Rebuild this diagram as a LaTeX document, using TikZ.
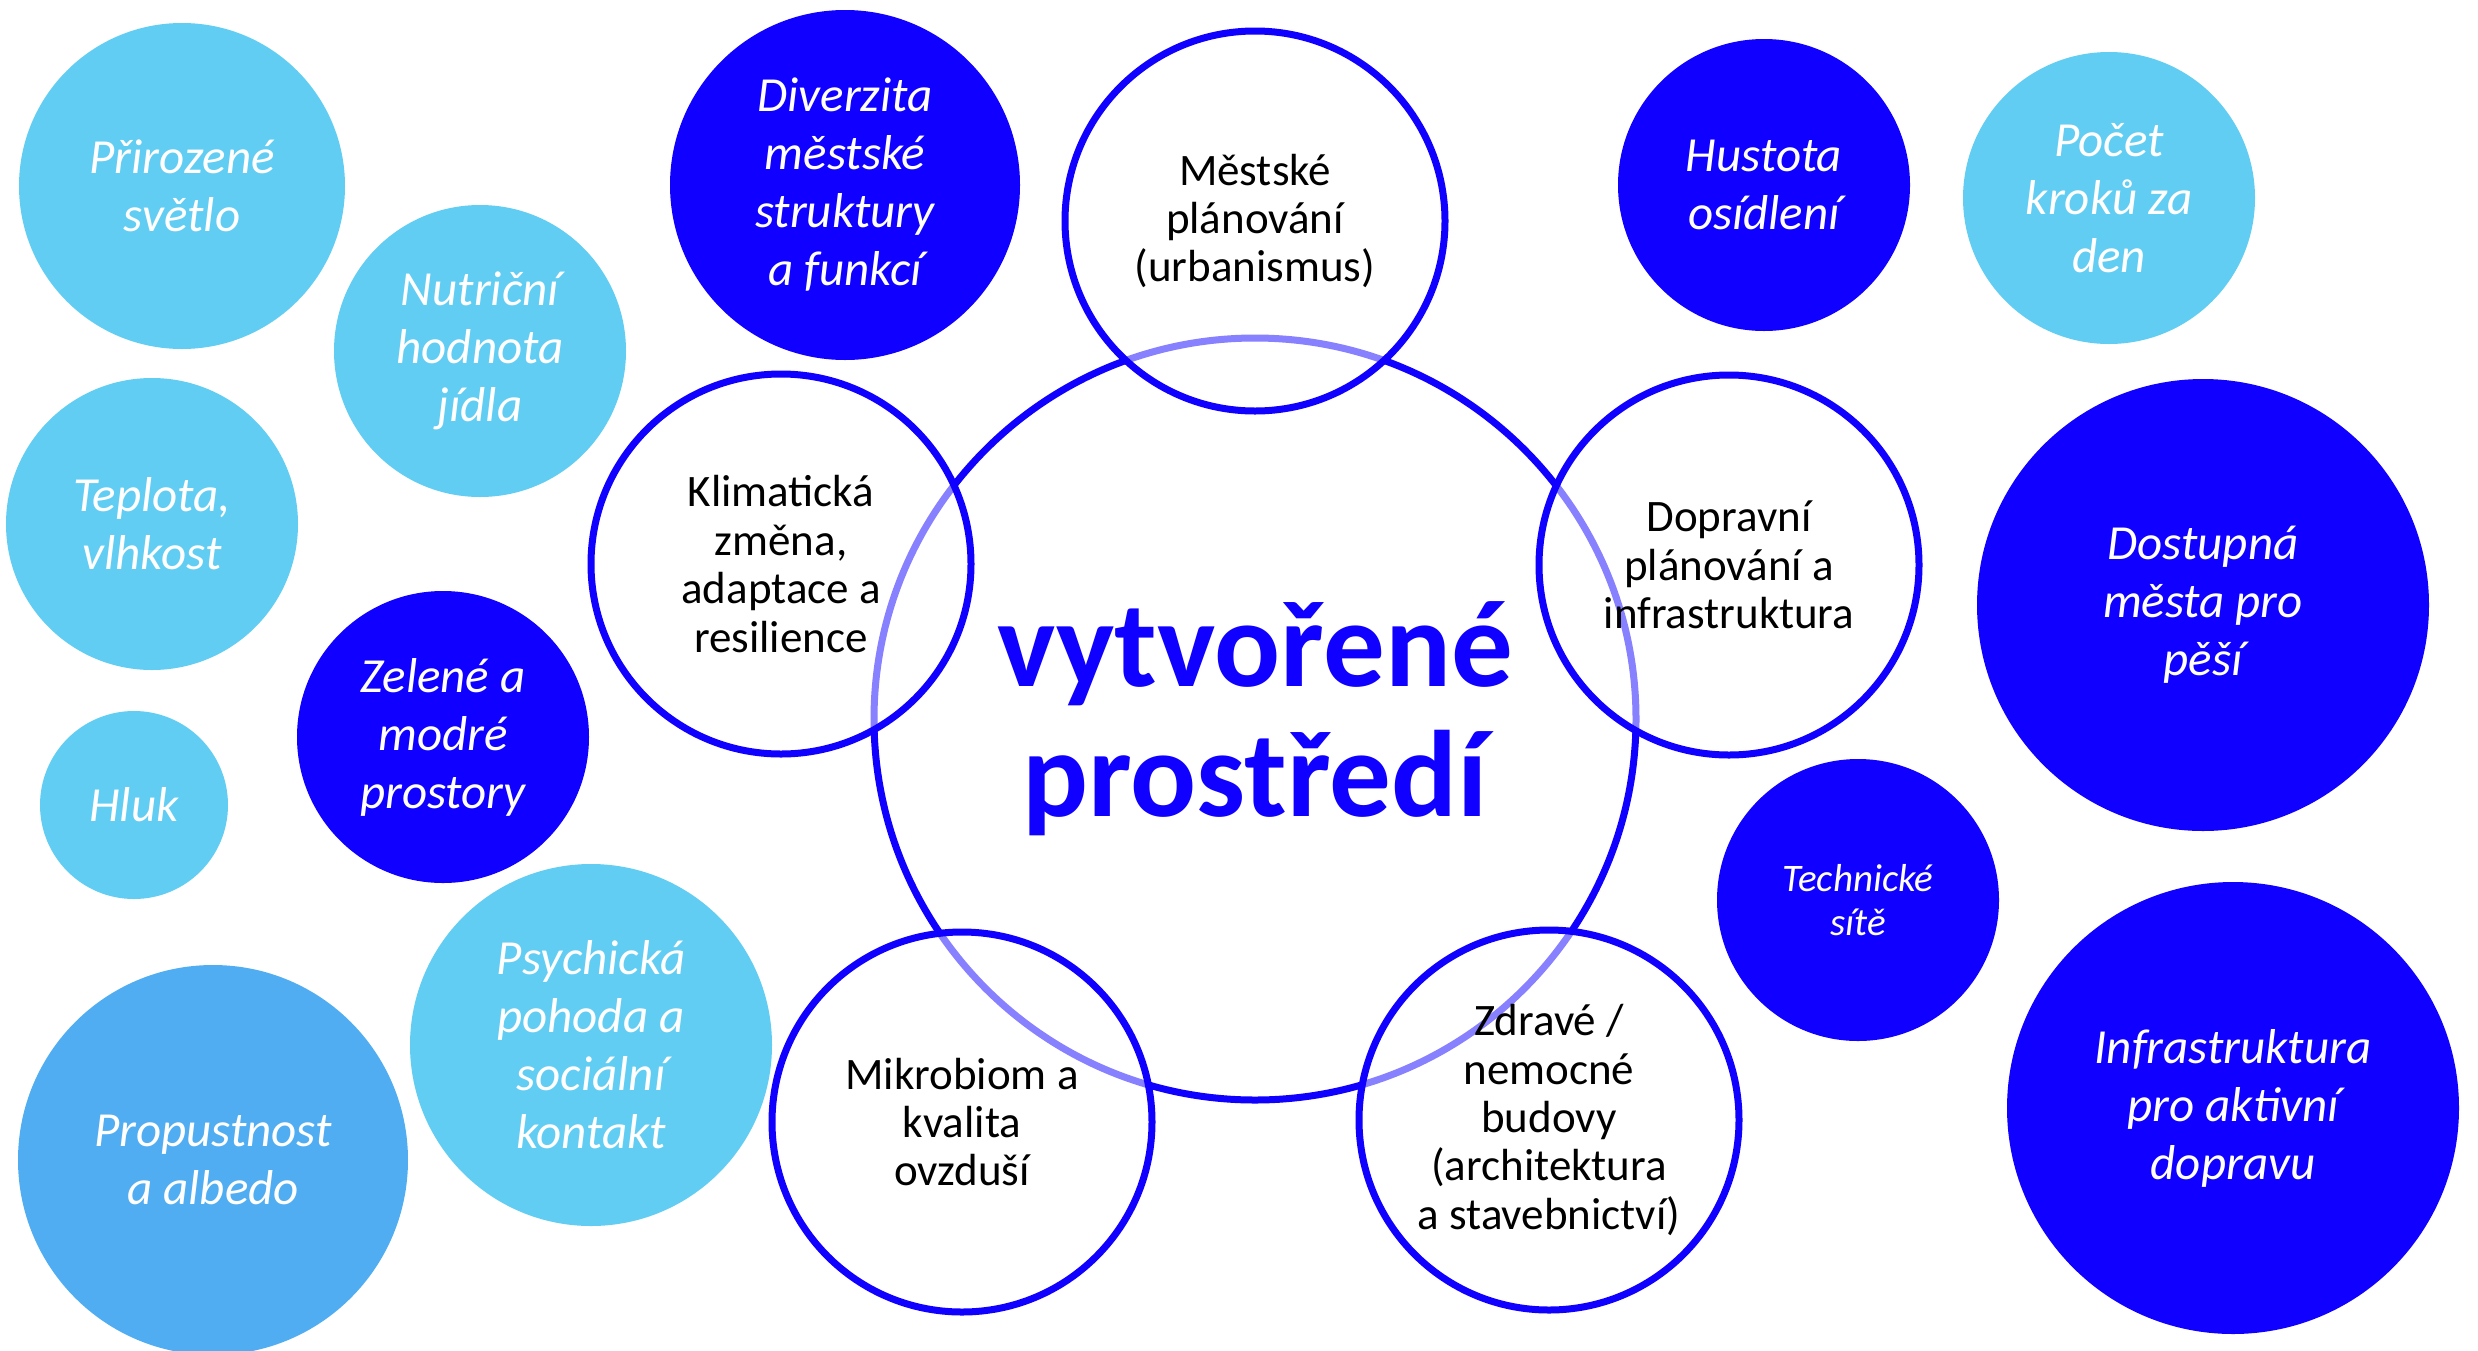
\documentclass[tikz,border=0pt]{standalone}
\usepackage{fontspec}
\setmainfont{Carlito}
\definecolor{deep}{HTML}{0F00FF}
\definecolor{sky}{HTML}{62CDF3}
\definecolor{azure}{HTML}{50ADF2}
\tikzset{
  bubble/.style={circle, inner sep=0pt, align=center, text=white,
    font=\itshape\fontsize{24.5}{29}\selectfont},
  skybub/.style={bubble, fill=sky},
  azurebub/.style={bubble, fill=azure},
  deepbub/.style={bubble, fill=deep},
  ring/.style={circle, inner sep=0pt, align=center, draw=deep, line width=3.5pt,
    fill=white, fill opacity=0.5, text opacity=1, text=black,
    font=\fontsize{22.5}{24.2}\selectfont},
  hub/.style={circle, inner sep=0pt, align=center, draw=deep, line width=3.5pt,
    text=deep, font=\bfseries\fontsize{61.5}{65}\selectfont},
}
\begin{document}
\begin{tikzpicture}[x=0.5pt,y=-0.5pt]
\useasboundingbox (0,0) rectangle (2478,1350);

% outer bubbles
\node[skybub, minimum size=163pt] (svetlo) at (182,186) {Přirozené\\světlo};
\node[skybub, minimum size=146pt] (nutri) at (480,351) {Nutriční\\hodnota\\jídla};
\node[skybub, minimum size=146pt] (teplota) at (152,524) {Teplota,\\vlhkost};
\node[skybub, minimum size=94pt] (hluk) at (134,805) {Hluk};
\node[deepbub, minimum size=146pt] (zelene) at (443,737) {Zelené a\\modré\\prostory};
\node[skybub, minimum size=181pt] (psych) at (591,1045) {Psychická\\pohoda a\\sociální\\kontakt};
\node[azurebub, minimum size=195pt] (propust) at (213,1160) {Propustnost\\a albedo};
\node[deepbub, minimum size=175pt] (diverz) at (845,185) {Diverzita\\městské\\struktury\\a funkcí};
\node[deepbub, minimum size=146pt] (hustota) at (1764,185) {Hustota\\osídlení};
\node[skybub, minimum size=146pt] (kroky) at (2109,198) {Počet\\kroků za\\den};
\node[deepbub, minimum size=226pt] (pesi) at (2203,605) {Dostupná\\města pro\\pěší};
\node[deepbub, minimum size=141pt, font=\itshape\fontsize{19.5}{22}\selectfont] (site) at (1858,900) {Technické\\sítě};
\node[deepbub, minimum size=226pt] (aktivni) at (2233,1108) {Infrastruktura\\pro aktivní\\dopravu};

% central circle
\node[hub, minimum size=381pt] (stred) at (1255,719) {vytvořené\\prostředí};

% rings around the centre
\node[ring, minimum size=190pt] (urban) at (1255,221) {Městské\\plánování\\(urbanismus)};
\node[ring, minimum size=190pt] (klima) at (781,564) {Klimatická\\změna,\\adaptace a\\resilience};
\node[ring, minimum size=190pt] (doprava) at (1729,565) {Dopravní\\plánování a\\infrastruktura};
\node[ring, minimum size=190pt] (mikro) at (962,1122) {Mikrobiom a\\kvalita\\ovzduší};
\node[ring, minimum size=190pt] (budovy) at (1549,1120) {Zdravé /\\nemocné\\budovy\\(architektura\\a stavebnictví)};
\end{tikzpicture}
\end{document}
